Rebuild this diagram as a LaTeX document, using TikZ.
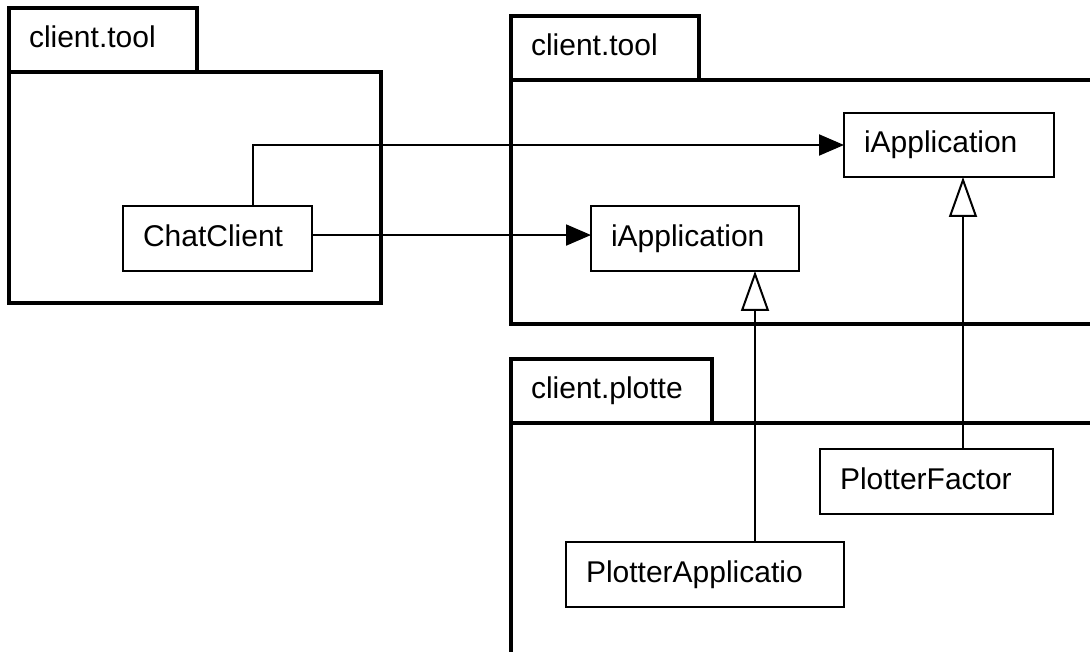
\documentclass[tikz,border=0pt]{standalone}
\usepackage{fontspec}
\setmainfont{Liberation Sans}
\usetikzlibrary{arrows.meta}
\begin{document}
\begin{tikzpicture}[x=0.75pt,y=-0.75pt,
  txt/.style={font=\fontsize{22.5}{27}\selectfont, align=left, text height=1.0em, text depth=0.27em, inner ysep=0pt, inner xsep=15pt, anchor=north west, outer sep=0pt,
    execute at begin node={\leavevmode\lower 2.25pt\hbox\bgroup}, execute at end node={\egroup}},
  pkg/.style={draw, line width=2.5pt},
  pkgtab/.style={pkg, txt, minimum height=48pt},
  cls/.style={draw, line width=1.5pt, txt, minimum height=48.75pt},
  assoc/.style={line width=1.5pt, -{Triangle[length=18.75pt,width=15.75pt]}},
  inh/.style={line width=1.5pt, -{Triangle[open,length=30pt,width=21pt,fill=white]}}]
\useasboundingbox (0,0) rectangle (1090,652);
\clip (0,0) rectangle (1090,652);
% packages
\draw[pkg] (9,72) rectangle (381,303);
\node[pkgtab, text width=111pt] (tabA) at (9,8) {client.tool};
\draw[pkg] (511,80) rectangle (1120,324);
\node[pkgtab, text width=111pt] (tabB) at (511,16) {client.tool};
\draw[pkg] (511,423) rectangle (1120,700);
\node[pkgtab, text width=120.75pt] (tabC) at (511,359) {client.plotte};
% classes
\node[cls, text width=111.75pt] (cc) at (123,206) {ChatClient};
\node[cls, text width=126pt] (il) at (591,206) {iApplication};
\node[cls, text width=127.5pt, minimum height=48pt] (iu) at (844,113) {iApplication};
\node[cls, text width=144.75pt] (pf) at (820,449) {PlotterFactor};
\node[cls, text width=178.5pt] (pa) at (566,542) {PlotterApplicatio};
% connectors
\coordinate (c1) at (253,0);
\coordinate (c2) at (755,0);
\coordinate (c3) at (963,0);
\draw[assoc] (cc.north -| c1) |- (iu.west);
\draw[assoc] ([yshift=2.6pt]cc.east) -- ([yshift=2.6pt]il.west);
\draw[inh] (pa.north -| c2) -- (il.south -| c2);
\draw[inh] (pf.north -| c3) -- (iu.south -| c3);
\end{tikzpicture}
\end{document}
